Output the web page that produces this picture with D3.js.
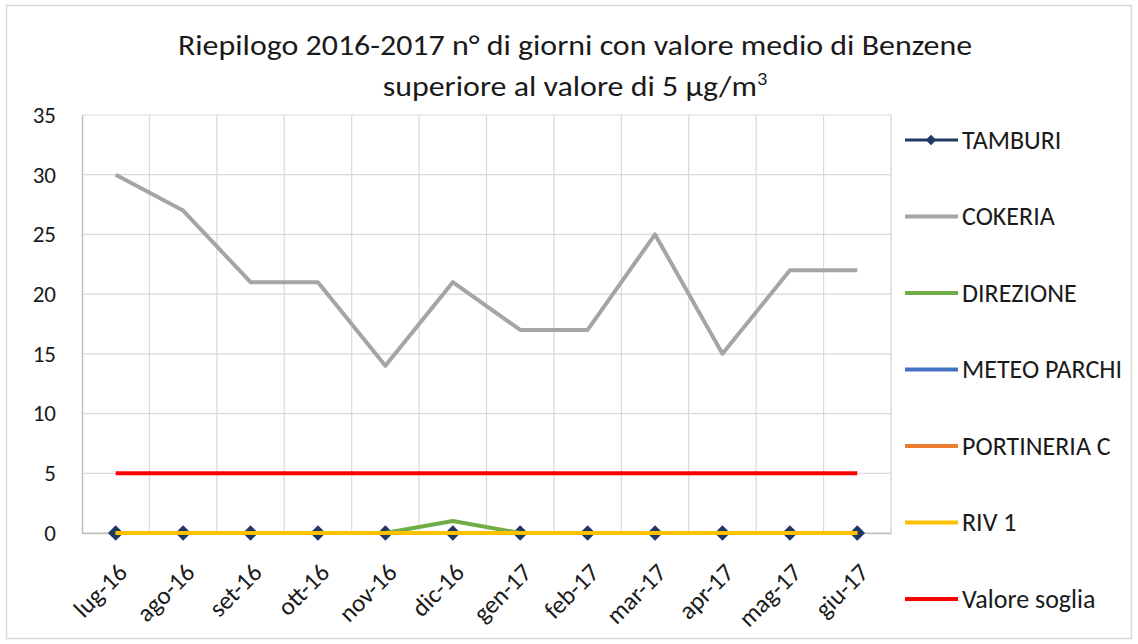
<!DOCTYPE html>
<html><head><meta charset="utf-8">
<script src="https://cdn.jsdelivr.net/npm/d3@7/dist/d3.min.js"></script>
<style>body{margin:0;background:#fff}svg{display:block}</style>
</head><body>
<svg id="c" width="1138" height="644"></svg>
<script>
const months = ["lug-16","ago-16","set-16","ott-16","nov-16","dic-16","gen-17","feb-17","mar-17","apr-17","mag-17","giu-17"];
const tamburi = [0,0,0,0,0,0,0,0,0,0,0,0];
const cokeria = [30,27,21,21,14,21,17,17,25,15,22,22];
const direzione = [0,0,0,0,0,1,0,0,0,0,0,0];
const meteoParchi = [0,0,0,0,0,0,0,0,0,0,0,0];
const portineriaC = [0,0,0,0,0,0,0,0,0,0,0,0];
const riv1 = [0,0,0,0,0,0,0,0,0,0,0,0];
const valoreSoglia = [5,5,5,5,5,5,5,5,5,5,5,5];
const yTicks = [0,5,10,15,20,25,30,35];
const seriesNames = ["TAMBURI","COKERIA","DIREZIONE","METEO PARCHI","PORTINERIA C","RIV 1","Valore soglia"];
const seriesColors = ["#1F3864","#A5A5A5","#70AD47","#4472C4","#ED7D31","#FFC000","#FF0000"];
const seriesValues = [tamburi,cokeria,direzione,meteoParchi,portineriaC,riv1,valoreSoglia];

const FONT = "Carlito, Calibri, Lato, sans-serif";
const svg = d3.select("#c");
svg.append("rect").attr("x",6.5).attr("y",5.5).attr("width",1125).attr("height",633)
  .attr("fill","#fff").attr("stroke","#D9D9D9").attr("stroke-width",1.5);

const L=82, R=891, T=115, B=533;
const x = d3.scaleBand().domain(months).range([L,R]);
const y = d3.scaleLinear().domain([0,35]).range([B,T]);
const cx = m => x(m)+x.bandwidth()/2;

// gridlines
const g = svg.append("g");
g.selectAll(".hg").data(yTicks).join("line")
  .attr("x1",L).attr("x2",R).attr("y1",d=>y(d)).attr("y2",d=>y(d))
  .attr("stroke","#D9D9D9").attr("stroke-width",1.2);
g.selectAll(".vg").data(months.slice(1)).join("line")
  .attr("x1",d=>x(d)).attr("x2",d=>x(d)).attr("y1",T).attr("y2",B)
  .attr("stroke","#D9D9D9").attr("stroke-width",1.2);
g.append("line").attr("x1",R).attr("x2",R).attr("y1",T).attr("y2",B).attr("stroke","#D9D9D9").attr("stroke-width",1.5);

// axes
const ya = svg.append("g").attr("transform",`translate(${L},0)`)
  .call(d3.axisLeft(y).tickValues(yTicks).tickSize(0).tickPadding(26));
ya.select(".domain").attr("stroke","#BFBFBF").attr("stroke-width",1.5);
ya.selectAll("text").attr("font-family",FONT).attr("font-size",23).attr("fill","#1a1a1a");

const xa = svg.append("g").attr("transform",`translate(0,${B})`)
  .call(d3.axisBottom(x).tickSize(0).tickPadding(0));
xa.select(".domain").attr("stroke","#BFBFBF").attr("stroke-width",1.5);
xa.selectAll("text").attr("font-family",FONT).attr("font-size",25).attr("fill","#1a1a1a")
  .attr("text-anchor","end").attr("dy","0")
  .attr("transform","translate(13,41) rotate(-45)");

// lines
const line = d3.line().x((d,i)=>cx(months[i])).y(d=>y(d));
const diamond = d3.symbol().type(d3.symbolSquare).size(120);
seriesValues.forEach((vals,k)=>{
  svg.append("path").datum(vals).attr("d",line).attr("fill","none")
    .attr("stroke",seriesColors[k]).attr("stroke-width",4).attr("stroke-linejoin","round");
  if(k===0){
    svg.append("g").selectAll("path").data(vals).join("path")
      .attr("d",diamond)
      .attr("transform",(d,i)=>`translate(${cx(months[i])},${y(d)}) rotate(45)`)
      .attr("fill",seriesColors[0]);
  }
});

// legend
const lg = svg.append("g");
seriesNames.forEach((n,i)=>{
  const yy = 140 + i*76.5;
  lg.append("line").attr("x1",905).attr("x2",958).attr("y1",yy).attr("y2",yy)
    .attr("stroke",seriesColors[i]).attr("stroke-width",i===0?3:4);
  if(i===0) lg.append("path").attr("d",d3.symbol().type(d3.symbolSquare).size(55))
    .attr("transform",`translate(931,${yy}) rotate(45)`).attr("fill",seriesColors[0]);
  lg.append("text").attr("x",962).attr("y",yy)
    .attr("dy","0.33em").text(n)
    .attr("font-family",FONT).attr("font-size",26).attr("fill","#1a1a1a");
});

// title
const tg = svg.append("g").attr("transform","translate(575,0) scale(1.14,1)");
const t = tg.append("text").attr("text-anchor","middle").attr("font-family",FONT)
  .attr("font-size",28).attr("fill","#1a1a1a");
t.append("tspan").attr("x",0).attr("y",55).text("Riepilogo 2016-2017 n° di giorni con valore medio di Benzene");
t.append("tspan").attr("x",0).attr("y",96).text("superiore al valore di 5 µg/m")
  .append("tspan").attr("dy",-11).attr("font-size",18).text("3");
</script>
</body></html>
